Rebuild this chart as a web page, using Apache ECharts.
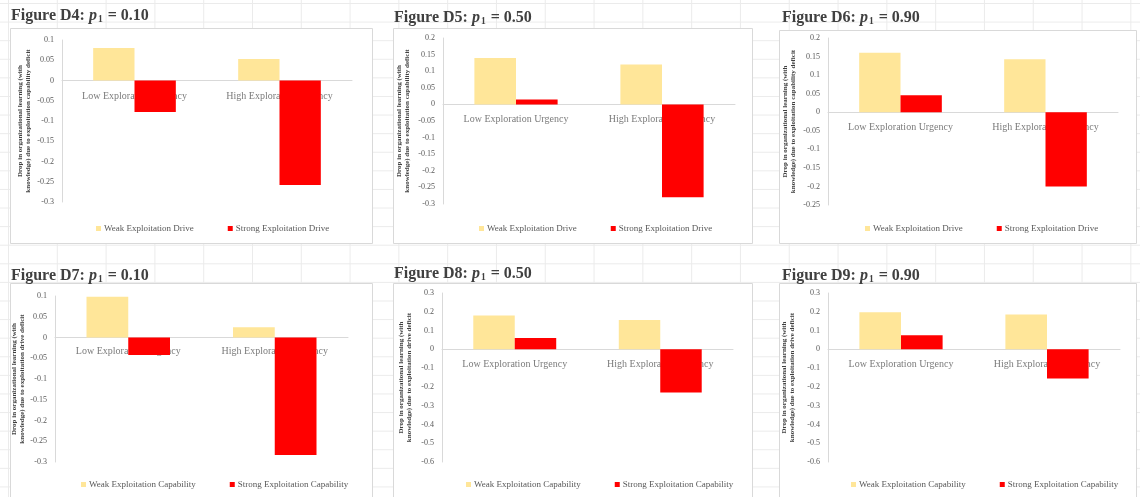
<!DOCTYPE html>
<html><head><meta charset="utf-8">
<script src="https://cdn.jsdelivr.net/npm/echarts@6/dist/echarts.min.js"></script>
<style>
html,body{margin:0;padding:0;}
body{width:1140px;height:497px;overflow:hidden;background-color:#fff;
background-image:linear-gradient(to right,#ebebeb 1px,transparent 1px),linear-gradient(to bottom,#ebebeb 1px,transparent 1px);
background-size:48.8px 18.6px;background-position:8px 3px;}
#main{width:1140px;height:497px;}
</style></head><body><div id="main"></div>
<script>
// ---- data ----
const categories = ['Low Exploration Urgency', 'High Exploration Urgency'];
const figureIds = ['D4', 'D5', 'D6', 'D7', 'D8', 'D9'];
const pValues = ['0.10', '0.50', '0.90', '0.10', '0.50', '0.90'];
const topLegend = ['Weak Exploitation Drive', 'Strong Exploitation Drive'];
const bottomLegend = ['Weak Exploitation Capability', 'Strong Exploitation Capability'];
const topAxisTitle = 'Drop in organizational learning (with\nknowledge) due to exploitation capability deficit';
const bottomAxisTitle = 'Drop in organizational learning (with\nknowledge) due to exploitation drive deficit';

const weakD4 = [0.080, 0.053];
const strongD4 = [-0.078, -0.258];
const weakD5 = [0.140, 0.120];
const strongD5 = [0.015, -0.280];
const weakD6 = [0.160, 0.143];
const strongD6 = [0.046, -0.200];
const weakD7 = [0.098, 0.025];
const strongD7 = [-0.042, -0.283];
const weakD8 = [0.180, 0.156];
const strongD8 = [0.060, -0.230];
const weakD9 = [0.197, 0.186];
const strongD9 = [0.075, -0.155];

const yMin = [-0.3, -0.3, -0.25, -0.3, -0.6, -0.6];
const yMax = [0.1, 0.2, 0.2, 0.1, 0.3, 0.3];
const yStep = [0.05, 0.05, 0.05, 0.05, 0.1, 0.1];

// ---- layout ----
const weakAll = [weakD4, weakD5, weakD6, weakD7, weakD8, weakD9];
const strongAll = [strongD4, strongD5, strongD6, strongD7, strongD8, strongD9];
const gridPos = [[62, 40, 290, 162], [443, 38, 292, 166], [828, 38, 290, 167],
                 [55, 296, 293, 166], [442, 293, 291, 169], [828, 293, 292, 169]];
const boxPos = [[10, 28, 362, 215], [393, 28, 359, 215], [779, 30, 357, 213],
                [10, 283, 362, 220], [393, 283, 359, 220], [779, 283, 357, 220]];
const titlePos = [[11, 6], [394, 8], [782, 8], [11, 266], [394, 264], [782, 266]];
const legendPos = [[96, 224], [479, 224], [865, 224], [81, 480], [466, 480], [851, 480]];
const nameGaps = [30, 32, 31, 27, 29, 32];
const labelDist = [11, 10, 10, 9, 10, 10];

const SERIF = "'Liberation Serif', 'DejaVu Serif', serif";
const WEAK = '#FFE699', STRONG = '#FF0000';

const option = {
  animation: false,
  backgroundColor: 'transparent',
  title: [], grid: [], xAxis: [], yAxis: [], series: [], legend: [],
  graphic: []
};

for (let i = 0; i < 6; i++) {
  const top = i < 3;
  const names = top ? topLegend : bottomLegend;
  const b = boxPos[i];
  option.graphic.push({
    type: 'rect', z: -10, silent: true,
    shape: { x: b[0] + 0.5, y: b[1] + 0.5, width: b[2], height: b[3] },
    style: { fill: '#ffffff', stroke: '#d9d9d9', lineWidth: 1 }
  });
  option.title.push({
    left: titlePos[i][0], top: titlePos[i][1], padding: 0,
    text: '{n|Figure }{b|' + figureIds[i] + '}{n|: }{p|p}{s|1}{n| = ' + pValues[i] + '}',
    textStyle: {
      rich: {
        n: { fontFamily: SERIF, fontSize: 16, color: '#404040', lineHeight: 19, verticalAlign: 'middle' },
        b: { fontFamily: SERIF, fontSize: 16, fontWeight: 'bold', color: '#404040', lineHeight: 19, verticalAlign: 'middle' },
        p: { fontFamily: SERIF, fontSize: 16, fontWeight: 'bold', fontStyle: 'italic', color: '#404040', lineHeight: 19, verticalAlign: 'middle' },
        s: { fontFamily: SERIF, fontSize: 9.5, color: '#404040', lineHeight: 9, verticalAlign: 'bottom', padding: [0, 1, 0, 1] }
      }
    }
  });
  const g = gridPos[i];
  option.grid.push({ left: g[0], top: g[1], width: g[2], height: g[3], outerBoundsMode: 'none', containLabel: false });
  option.xAxis.push({
    type: 'category', gridIndex: i, data: categories,
    axisLine: { onZero: true, lineStyle: { color: '#d9d9d9', width: 1 } },
    axisTick: { show: false },
    axisLabel: { show: false },
    splitLine: { show: false }
  });
  option.yAxis.push({
    type: 'value', gridIndex: i, min: yMin[i], max: yMax[i], interval: yStep[i],
    axisLine: { show: true, lineStyle: { color: '#d9d9d9', width: 1 } },
    axisTick: { show: false },
    splitLine: { show: false },
    axisLabel: {
      fontFamily: SERIF, fontSize: 8, color: '#595959', margin: 8,
      formatter: v => String(parseFloat(v.toFixed(3)))
    },
    name: top ? topAxisTitle : bottomAxisTitle,
    nameLocation: 'middle', nameRotate: 90, nameGap: nameGaps[i],
    nameTextStyle: { fontFamily: SERIF, fontSize: 7, fontWeight: 'bold', color: '#404040', lineHeight: 8 }
  });
  // category labels sitting just under the zero line (drawn beneath the bars)
  option.series.push({
    type: 'scatter', xAxisIndex: i, yAxisIndex: i, z: 1, silent: true,
    symbolSize: 0, data: categories.map(c => [c, 0]),
    label: {
      show: true, position: 'bottom', distance: labelDist[i],
      formatter: p => p.value[0],
      fontFamily: SERIF, fontSize: 10, color: '#595959'
    },
    tooltip: { show: false }
  });
  option.series.push({
    name: names[0], type: 'bar', xAxisIndex: i, yAxisIndex: i, z: 3,
    data: weakAll[i], itemStyle: { color: WEAK },
    barGap: '0%', barCategoryGap: '43%'
  });
  option.series.push({
    name: names[1], type: 'bar', xAxisIndex: i, yAxisIndex: i, z: 3,
    data: strongAll[i], itemStyle: { color: STRONG },
    barGap: '0%', barCategoryGap: '43%'
  });
  option.legend.push({
    left: legendPos[i][0], top: legendPos[i][1], padding: 0,
    data: names, icon: 'rect', itemWidth: 5, itemHeight: 5, itemGap: 34,
    selectedMode: false,
    textStyle: { fontFamily: SERIF, fontSize: 9, color: '#595959', padding: [0, 0, 0, -2] }
  });
}

const chart = echarts.init(document.getElementById('main'), null, { renderer: 'canvas' });
chart.setOption(option);
</script>
</body></html>
